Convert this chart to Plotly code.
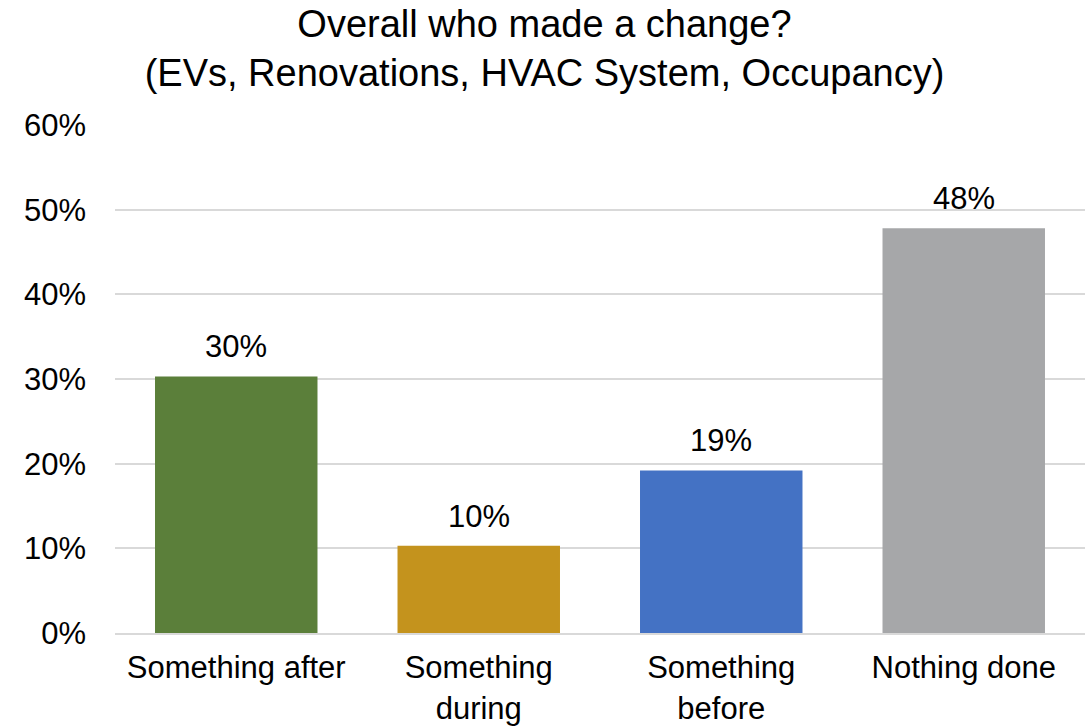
import plotly.graph_objects as go

# Survey results: share of respondents by when they made a change
categories = ["Something after", "Something<br>during", "Something<br>before", "Nothing done"]
shares = [0.303, 0.103, 0.192, 0.478]
bar_colors = ["#5B7F3A", "#C4931D", "#4472C4", "#A6A7A9"]
y_ticks = [0, 0.1, 0.2, 0.3, 0.4, 0.5, 0.6]
y_tick_labels = ["0%", "10%", "20%", "30%", "40%", "50%", "60%"]

FONT = "Liberation Sans, Arial, sans-serif"

fig = go.Figure(
    go.Bar(
        x=categories,
        y=shares,
        marker=dict(color=bar_colors, line=dict(width=0)),
        hovertemplate="%{x}: %{y:.0%}<extra></extra>",
    )
)

# value labels above each bar
for cat, val in zip(categories, shares):
    fig.add_annotation(
        x=cat, y=val, text=f"{val:.0%}", showarrow=False,
        yanchor="bottom", yshift=10,
        font=dict(family=FONT, size=31, color="#000000"),
    )

fig.update_layout(
    width=1089,
    height=726,
    margin=dict(l=115, r=4, t=125, b=93, autoexpand=False),
    paper_bgcolor="white",
    plot_bgcolor="white",
    bargap=0.33,
    showlegend=False,
    font=dict(family=FONT, color="#000000"),
    title=dict(
        text="Overall who made a change?<br>(EVs, Renovations, HVAC System, Occupancy)",
        x=0.5, xanchor="center", y=0.949, yanchor="middle",
        font=dict(family=FONT, size=38, color="#000000"),
    ),
    xaxis=dict(
        showgrid=False, showline=True, linecolor="#D9D9D9", linewidth=2,
        ticks="", tickfont=dict(family=FONT, size=31, color="#000000"),
        ticklabelstandoff=6, automargin=False,
    ),
    yaxis=dict(
        range=[0, 0.6], tickvals=y_ticks, ticktext=y_tick_labels,
        showgrid=True, gridcolor="#D9D9D9", gridwidth=2,
        zeroline=False, showline=False, ticks="",
        tickfont=dict(family=FONT, size=31, color="#000000"),
        ticklabelstandoff=28, automargin=False,
    ),
)

fig.write_html("out.html")
